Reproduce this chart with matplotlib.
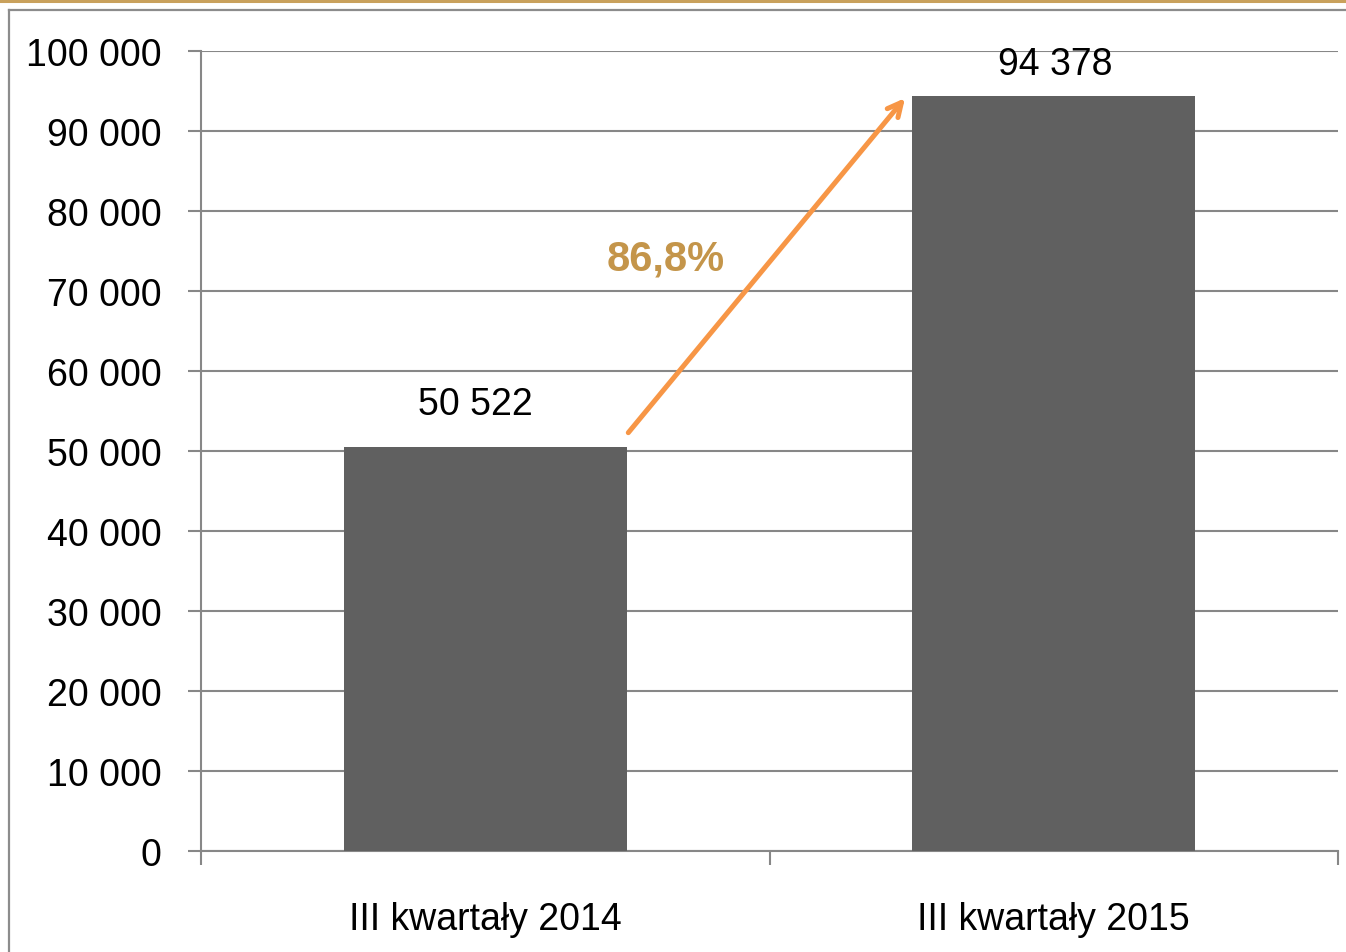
import matplotlib
matplotlib.use("Agg")
import matplotlib.pyplot as plt
from matplotlib.lines import Line2D
from matplotlib.ticker import FuncFormatter, MultipleLocator, FixedLocator

# data
categories = ["III kwartały 2014", "III kwartały 2015"]
values = [50522, 94378]
value_labels = ["50 522", "94 378"]
growth_label = "86,8%"

BAR_COL = "#606060"
GRID_COL = "#878787"
ARROW_COL = "#F79646"
PCT_COL = "#C4954A"
FRAME_COL = "#8C8C8C"
GOLD_COL = "#C9A15C"

plt.rcParams["font.family"] = ["Liberation Sans", "DejaVu Sans"]

W, H = 1346, 953
fig = plt.figure(figsize=(W / 100, H / 100), dpi=100, facecolor="white")
ax = fig.add_axes([201 / W, (H - 852) / H, (1338 - 201) / W, (852 - 52) / H])

x = list(range(len(categories)))
bw = 0.497
ax.bar(x, values, bw, color=BAR_COL, zorder=3)

ax.set_xlim(-0.5, 1.5)
ax.set_ylim(0, 100000)
ax.yaxis.set_major_locator(MultipleLocator(10000))
ax.yaxis.set_major_formatter(FuncFormatter(lambda v, p: f"{int(v):,}".replace(",", " ")))
ax.grid(axis="y", color=GRID_COL, linewidth=1.5, zorder=0)
ax.set_axisbelow(True)

ax.set_xticks(x)
ax.set_xticklabels(categories)
ax.xaxis.set_minor_locator(FixedLocator([-0.5, 0.5, 1.5]))
ax.tick_params(axis="x", which="major", length=0, pad=36, labelsize=27)
ax.tick_params(axis="x", which="minor", length=10, width=1.5, color=GRID_COL)
ax.tick_params(axis="y", length=9.5, width=1.5, color=GRID_COL, pad=19, labelsize=27)

for s in ["top", "right"]:
    ax.spines[s].set_visible(False)
for s in ["left", "bottom"]:
    ax.spines[s].set_color(GRID_COL)
    ax.spines[s].set_linewidth(1.5)

# value labels (Excel nudged them slightly)
label_offsets = [(-7, 18), (1, 10)]
for xi, v, lbl, off in zip(x, values, value_labels, label_offsets):
    ax.annotate(lbl, (xi, v), xytext=off, textcoords="offset points",
                ha="center", va="bottom", fontsize=27, color="black")

# growth arrow between bar tops
x0 = x[0] + bw / 2
x1 = x[1] - bw / 2 - 0.01
ax.annotate("", xy=(x1, values[1]), xytext=(x0, values[0] + 1500),
            arrowprops=dict(arrowstyle="->,head_length=1.0,head_width=0.5",
                            color=ARROW_COL, lw=3.6), zorder=5)
ax.text((x0 + x1) / 2 - 0.177, 74100, growth_label, ha="center", va="center",
        fontsize=30, fontweight="bold", color=PCT_COL)

# outer frame and gold top rule
fig.add_artist(Line2D([0, 1], [1 - 1.5 / H, 1 - 1.5 / H], color=GOLD_COL, lw=2.2))
fig.add_artist(Line2D([9 / W, 1], [1 - 11 / H, 1 - 11 / H], color=FRAME_COL, lw=1.6))
fig.add_artist(Line2D([9 / W, 9 / W], [0, 1 - 11 / H], color=FRAME_COL, lw=1.6))

fig.savefig("out.png", dpi=100, facecolor="white")
